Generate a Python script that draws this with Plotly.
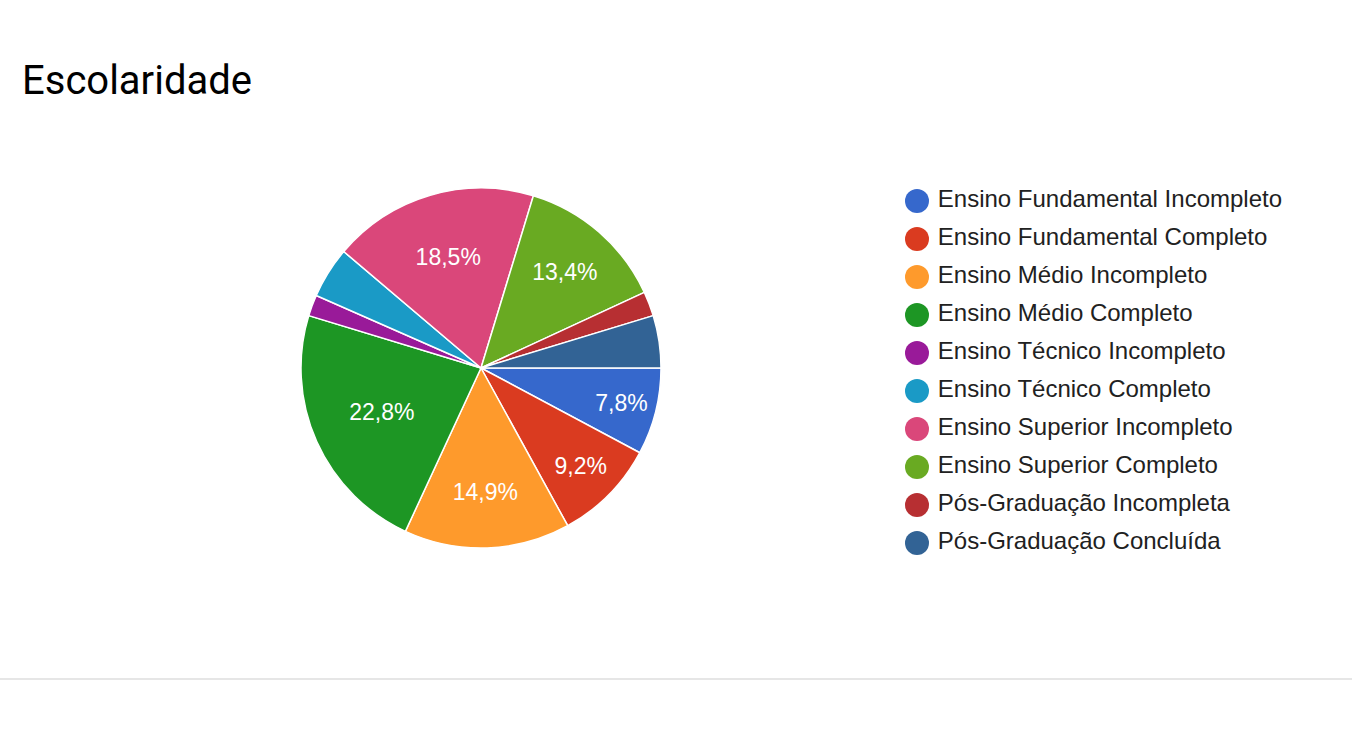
import plotly.graph_objects as go

labels = [
    "Ensino Fundamental Incompleto",
    "Ensino Fundamental Completo",
    "Ensino Médio Incompleto",
    "Ensino Médio Completo",
    "Ensino Técnico Incompleto",
    "Ensino Técnico Completo",
    "Ensino Superior Incompleto",
    "Ensino Superior Completo",
    "Pós-Graduação Incompleta",
    "Pós-Graduação Concluída",
]
values = [7.8, 9.2, 14.9, 22.8, 1.9, 4.6, 18.5, 13.4, 2.2, 4.7]
colors = ["#3668cc", "#da3b20", "#fe9a2c", "#1d9624", "#991a99",
          "#1a9ac6", "#da477a", "#69aa22", "#b72f32", "#326395"]

W, H = 1352, 739
slice_text = [(f"{v:.1f}%".replace(".", ",") if v >= 5 else "") for v in values]

fig = go.Figure()

cx, cy, r = 481, 368, 180
fig.add_trace(go.Pie(
    labels=labels, values=values, text=slice_text, textinfo="text",
    sort=False, direction="clockwise", rotation=90,
    marker=dict(colors=colors, line=dict(color="white", width=1.5)),
    textposition="inside", insidetextorientation="horizontal",
    textfont=dict(family="Arial, Liberation Sans, sans-serif", size=23, color="white"),
    domain=dict(x=[(cx - r) / W, (cx + r) / W], y=[(H - cy - r) / H, (H - cy + r) / H]),
    showlegend=False, hoverinfo="label+percent",
))

# custom legend with circular markers
n = len(labels)
fig.add_trace(go.Scatter(
    x=[0] * n, y=list(range(n)), mode="markers+text",
    marker=dict(color=colors, size=24),
    text=["\u2009" + l for l in labels], textposition="middle right",
    textfont=dict(family="Arial, Liberation Sans, sans-serif", size=24, color="#212121"),
    cliponaxis=False, showlegend=False, hoverinfo="skip",
))

top, step = 201, 38
y0_px = top - step / 2
y1_px = top + step * (n - 1) + step / 2
fig.update_layout(
    width=W, height=H,
    margin=dict(l=0, r=0, t=0, b=0),
    paper_bgcolor="white", plot_bgcolor="white",
    title=dict(text="Escolaridade", x=22 / W, xanchor="left", y=1 - 80 / H, yanchor="middle",
               font=dict(family="Roboto, Arial, sans-serif", size=40, color="#000000")),
    xaxis=dict(domain=[917 / W, 1.0], range=[0, 1], visible=False, fixedrange=True),
    yaxis=dict(domain=[(H - y1_px) / H, (H - y0_px) / H], range=[n - 0.5, -0.5],
               visible=False, fixedrange=True),
    shapes=[dict(type="line", xref="paper", yref="paper", x0=0, x1=1,
                 y0=(H - 679) / H, y1=(H - 679) / H,
                 line=dict(color="#e6e6e6", width=2))],
)

fig.write_html("out.html")
